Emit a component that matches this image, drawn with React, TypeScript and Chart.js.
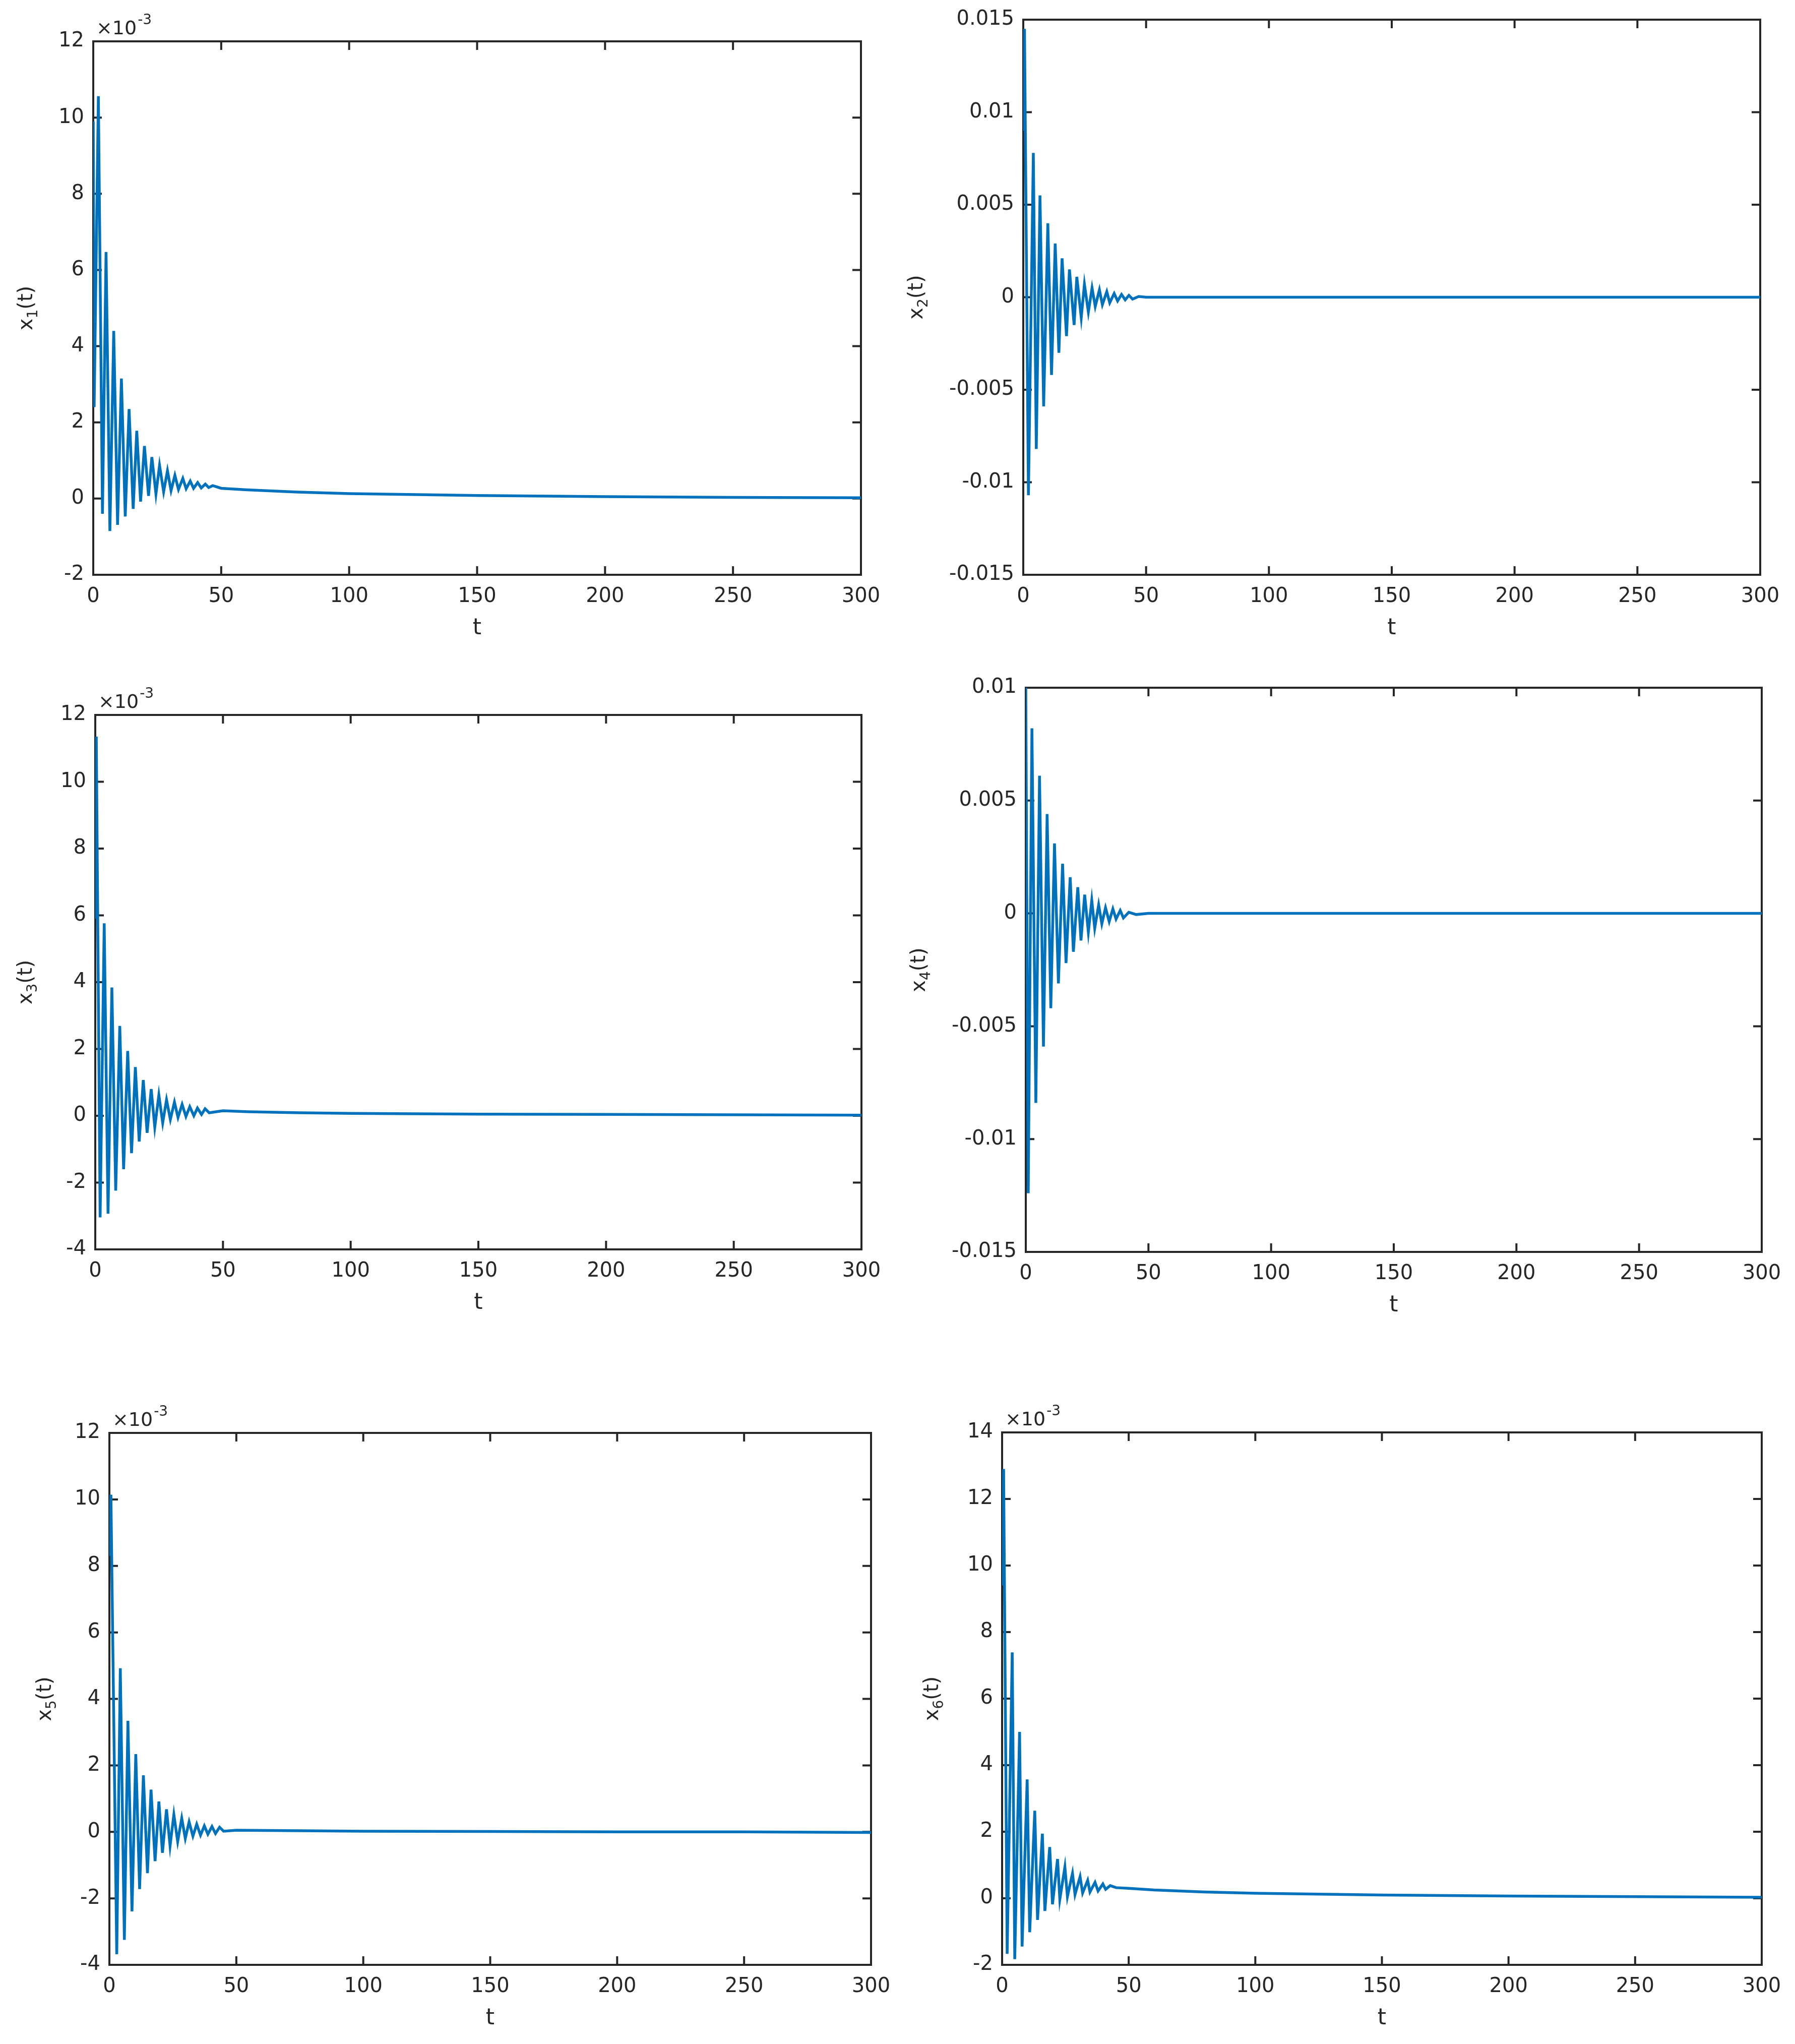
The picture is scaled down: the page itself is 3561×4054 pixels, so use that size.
import { useEffect, useRef } from "react";
import { Chart, registerables } from "chart.js";
import type { Plugin } from "chart.js";

Chart.register(...registerables);

// tick values
const timeTicks = [0, 50, 100, 150, 200, 250, 300];
const milliTicksA = [-2, 0, 2, 4, 6, 8, 10, 12];
const milliTicksB = [-4, -2, 0, 2, 4, 6, 8, 10, 12];
const milliTicksC = [-2, 0, 2, 4, 6, 8, 10, 12, 14];
const wideTicks = [-0.015, -0.01, -0.005, 0, 0.005, 0.01, 0.015];
const narrowTicks = [-0.015, -0.01, -0.005, 0, 0.005, 0.01];

// x1, x3, x5, x6 are read in units of 1e-3 (axis shows x10^-3)
const x1Time = [0, 0.35, 2.0, 3.6, 5.0, 6.5, 8.0, 9.5, 11.0, 12.5, 14.0, 15.6, 17.0, 18.5, 20.0, 21.6, 22.9, 24.5, 25.9, 27.5, 29.0, 30.4, 31.9, 33.3, 35.0, 36.3, 37.9, 39.2, 40.8, 42.2, 43.8, 45.1, 46.7, 50, 60, 80, 100, 150, 200, 250, 300];
const x1Value = [9.9, 2.4, 10.56, -0.4, 6.47, -0.85, 4.4, -0.69, 3.15, -0.47, 2.35, -0.27, 1.78, -0.08, 1.38, 0.07, 1.09, 0.12, 0.87, 0.18, 0.73, 0.21, 0.61, 0.24, 0.53, 0.26, 0.46, 0.27, 0.42, 0.28, 0.38, 0.29, 0.34, 0.27, 0.23, 0.17, 0.13, 0.08, 0.05, 0.03, 0.02];

const x2Time = [0, 0.5, 2.1, 4.1, 5.3, 6.8, 8.3, 10.0, 11.5, 13.0, 14.5, 15.8, 17.6, 18.8, 20.7, 21.8, 23.6, 24.9, 26.5, 28.0, 29.3, 31.0, 32.2, 34.0, 35.2, 37.0, 38.4, 40.0, 41.5, 43.0, 44.5, 47, 50, 100, 150, 200, 250, 300];
const x2Value = [0.009, 0.0145, -0.0107, 0.0078, -0.0082, 0.0055, -0.0059, 0.004, -0.0042, 0.0029, -0.003, 0.0021, -0.0021, 0.0015, -0.0015, 0.0011, -0.0011, 0.0007, -0.0008, 0.0005, -0.0005, 0.0004, -0.0004, 0.0003, -0.0003, 0.0002, -0.0002, 0.00015, -0.00014, 0.0001, -0.0001, 0.00004, 0, 0, 0, 0, 0, 0];

const x3Time = [0, 0.4, 1.9, 3.5, 5.0, 6.5, 8.0, 9.6, 11.1, 12.7, 14.2, 15.7, 17.2, 18.8, 20.3, 21.9, 23.3, 24.9, 26.4, 27.9, 29.4, 31.0, 32.4, 34.0, 35.5, 37.0, 38.6, 40.0, 41.6, 43.0, 44.6, 50, 60, 80, 100, 150, 200, 250, 300];
const x3Value = [5.9, 11.35, -3.04, 5.76, -2.93, 3.84, -2.24, 2.69, -1.6, 1.94, -1.12, 1.46, -0.77, 1.07, -0.51, 0.8, -0.34, 0.62, -0.21, 0.48, -0.11, 0.41, -0.05, 0.34, -0.02, 0.27, 0.0, 0.23, 0.04, 0.21, 0.09, 0.15, 0.12, 0.09, 0.07, 0.05, 0.04, 0.03, 0.02];

const x4Time = [0, 1.0, 2.5, 4.1, 5.6, 7.2, 8.7, 10.2, 11.7, 13.3, 15.0, 16.4, 18.1, 19.4, 21.2, 22.5, 24.0, 25.5, 26.9, 28.1, 29.7, 31.0, 32.5, 34.0, 35.5, 36.8, 38.5, 39.8, 42, 45, 50, 100, 150, 200, 250, 300];
const x4Value = [0.01, -0.0124, 0.0082, -0.0084, 0.0061, -0.0059, 0.0044, -0.0042, 0.0031, -0.0031, 0.0022, -0.0022, 0.0016, -0.0017, 0.00116, -0.0012, 0.00083, -0.00083, 0.00058, -0.00066, 0.00038, -0.00046, 0.00025, -0.00036, 0.0002, -0.00025, 0.00013, -0.0002, 0.00005, -0.00005, 0, 0, 0, 0, 0, 0];

const x5Time = [0, 0.6, 2.9, 4.3, 5.9, 7.3, 8.9, 10.4, 11.9, 13.4, 15.0, 16.4, 18.0, 19.5, 20.9, 22.5, 23.9, 25.4, 26.9, 28.5, 29.9, 31.4, 32.9, 34.4, 35.9, 37.4, 38.8, 40.4, 41.8, 43.4, 45, 50, 100, 150, 200, 250, 300];
const x5Value = [8.3, 10.14, -3.68, 4.92, -3.25, 3.34, -2.39, 2.34, -1.72, 1.7, -1.24, 1.27, -0.88, 0.91, -0.63, 0.68, -0.42, 0.52, -0.29, 0.41, -0.2, 0.3, -0.13, 0.23, -0.1, 0.18, -0.07, 0.16, -0.05, 0.14, 0.02, 0.05, 0.02, 0.01, 0, 0, -0.02];

const x6Time = [0, 0.6, 2.0, 4.0, 5.0, 6.9, 7.9, 9.9, 10.9, 12.9, 14.0, 15.9, 16.9, 18.8, 19.9, 21.9, 22.8, 24.8, 25.8, 27.8, 28.8, 30.8, 31.8, 33.8, 34.7, 36.7, 37.9, 39.8, 40.9, 42.7, 45, 50, 60, 80, 100, 150, 200, 250, 300];
const x6Value = [9.4, 12.9, -1.67, 7.39, -1.83, 5.0, -1.45, 3.57, -1.02, 2.63, -0.65, 1.94, -0.38, 1.54, -0.18, 1.18, -0.03, 0.94, 0.05, 0.75, 0.11, 0.65, 0.16, 0.54, 0.19, 0.48, 0.22, 0.43, 0.27, 0.38, 0.32, 0.3, 0.25, 0.19, 0.15, 0.1, 0.07, 0.05, 0.03];

const INK = "#262626";
const LINE = "#0072BD";
const FONT = "'DejaVu Sans', 'Liberation Sans', sans-serif";
const TICK_LEN = 17;
// margins around each plot area inside its canvas
const ML = 260, MT = 110, MR = 80, MB = 170;

interface Box { left: number; top: number; right: number; bottom: number }

interface PanelProps {
  sub: string;
  time: number[];
  values: number[];
  yTicks: number[];
  milli: boolean;
  box: Box;
  labelGap: number;
}

function decor(p: PanelProps): Plugin<"line"> {
  return {
    id: "decor",
    beforeDatasetsDraw(chart) {
      const { ctx, chartArea: a, scales } = chart;
      ctx.save();
      ctx.strokeStyle = INK;
      ctx.lineWidth = 4;
      ctx.strokeRect(a.left, a.top, a.right - a.left, a.bottom - a.top);
      ctx.beginPath();
      for (const t of scales.x.ticks) {
        const px = scales.x.getPixelForValue(t.value);
        ctx.moveTo(px, a.bottom);
        ctx.lineTo(px, a.bottom - TICK_LEN);
        ctx.moveTo(px, a.top);
        ctx.lineTo(px, a.top + TICK_LEN);
      }
      for (const t of scales.y.ticks) {
        const py = scales.y.getPixelForValue(t.value);
        ctx.moveTo(a.left, py);
        ctx.lineTo(a.left + TICK_LEN, py);
        ctx.moveTo(a.right, py);
        ctx.lineTo(a.right - TICK_LEN, py);
      }
      ctx.stroke();
      ctx.restore();
    },
    afterDraw(chart) {
      const { ctx, chartArea: a } = chart;
      ctx.save();
      ctx.fillStyle = INK;

      // x title
      ctx.font = `44px ${FONT}`;
      ctx.textAlign = "center";
      ctx.textBaseline = "middle";
      ctx.fillText("t", (a.left + a.right) / 2, a.bottom + 107);

      // y title, rotated, with subscript
      ctx.textAlign = "left";
      ctx.textBaseline = "alphabetic";
      ctx.translate(a.left - p.labelGap, (a.top + a.bottom) / 2);
      ctx.rotate(-Math.PI / 2);
      const main = `40px ${FONT}`;
      const small = `28px ${FONT}`;
      ctx.font = main;
      const wx = ctx.measureText("x").width;
      const wp = ctx.measureText("(t)").width;
      ctx.font = small;
      const ws = ctx.measureText(p.sub).width;
      let cx = -(wx + ws + wp) / 2;
      ctx.font = main;
      ctx.fillText("x", cx, 12);
      cx += wx;
      ctx.font = small;
      ctx.fillText(p.sub, cx, 22);
      cx += ws;
      ctx.font = main;
      ctx.fillText("(t)", cx, 12);
      ctx.restore();

      if (p.milli) {
        ctx.save();
        ctx.fillStyle = INK;
        ctx.textAlign = "left";
        ctx.textBaseline = "alphabetic";
        ctx.font = `38px ${FONT}`;
        const base = "\u00d710";
        ctx.fillText(base, a.left + 6, a.top - 14);
        const wb = ctx.measureText(base).width;
        ctx.font = `28px ${FONT}`;
        ctx.fillText("-3", a.left + 8 + wb, a.top - 34);
        ctx.restore();
      }
    },
  };
}

function Panel(p: PanelProps) {
  const canvasRef = useRef<HTMLCanvasElement>(null);
  const w = p.box.right - p.box.left + ML + MR;
  const h = p.box.bottom - p.box.top + MT + MB;

  useEffect(() => {
    const ctx = canvasRef.current?.getContext("2d");
    if (!ctx) return;

    const chart = new Chart(ctx, {
      type: "line",
      data: {
        datasets: [{
          data: p.time.map((t, i) => ({ x: t, y: p.values[i] })),
          borderColor: LINE,
          borderWidth: 5.5,
          pointRadius: 0,
          tension: 0,
          fill: false,
        }],
      },
      options: {
        responsive: false,
        animation: false,
        events: [],
        layout: { padding: { left: 0, top: MT, right: MR, bottom: 0 } },
        plugins: { legend: { display: false }, tooltip: { enabled: false } },
        scales: {
          x: {
            type: "linear",
            min: 0,
            max: 300,
            grid: { display: false, drawTicks: false },
            border: { display: false },
            afterBuildTicks: (s) => { s.ticks = timeTicks.map((v) => ({ value: v })); },
            afterFit: (s) => { s.height = MB; },
            ticks: {
              color: INK,
              padding: 20,
              maxRotation: 0,
              font: { family: FONT, size: 40 },
              callback: (v) => String(v),
            },
          },
          y: {
            type: "linear",
            min: p.yTicks[0],
            max: p.yTicks[p.yTicks.length - 1],
            grid: { display: false, drawTicks: false },
            border: { display: false },
            afterBuildTicks: (s) => { s.ticks = p.yTicks.map((v) => ({ value: v })); },
            afterFit: (s) => { s.width = ML; },
            ticks: {
              color: INK,
              padding: 18,
              font: { family: FONT, size: 40 },
              callback: (v) => String(v),
            },
          },
        },
      },
      plugins: [decor(p)],
    });

    return () => chart.destroy();
  }, [p]);

  return (
    <canvas
      ref={canvasRef}
      width={w}
      height={h}
      style={{ position: "absolute", left: p.box.left - ML, top: p.box.top - MT, width: w, height: h }}
    />
  );
}

const panels: PanelProps[] = [
  { sub: "1", time: x1Time, values: x1Value, yTicks: milliTicksA, milli: true, box: { left: 185, top: 82, right: 1708, bottom: 1140 }, labelGap: 133 },
  { sub: "2", time: x2Time, values: x2Value, yTicks: wideTicks, milli: false, box: { left: 2030, top: 39, right: 3492, bottom: 1140 }, labelGap: 212 },
  { sub: "3", time: x3Time, values: x3Value, yTicks: milliTicksB, milli: true, box: { left: 189, top: 1418, right: 1709, bottom: 2478 }, labelGap: 138 },
  { sub: "4", time: x4Time, values: x4Value, yTicks: narrowTicks, milli: false, box: { left: 2035, top: 1364, right: 3495, bottom: 2483 }, labelGap: 212 },
  { sub: "5", time: x5Time, values: x5Value, yTicks: milliTicksB, milli: true, box: { left: 217, top: 2842, right: 1728, bottom: 3897 }, labelGap: 128 },
  { sub: "6", time: x6Time, values: x6Value, yTicks: milliTicksC, milli: true, box: { left: 1988, top: 2841, right: 3495, bottom: 3897 }, labelGap: 139 },
];

export default function App() {
  return (
    <div style={{ position: "absolute", left: 0, top: 0, width: 3561, height: 4054, overflow: "hidden", background: "#fff" }}>
      {panels.map((p) => <Panel key={p.sub} {...p} />)}
    </div>
  );
}
